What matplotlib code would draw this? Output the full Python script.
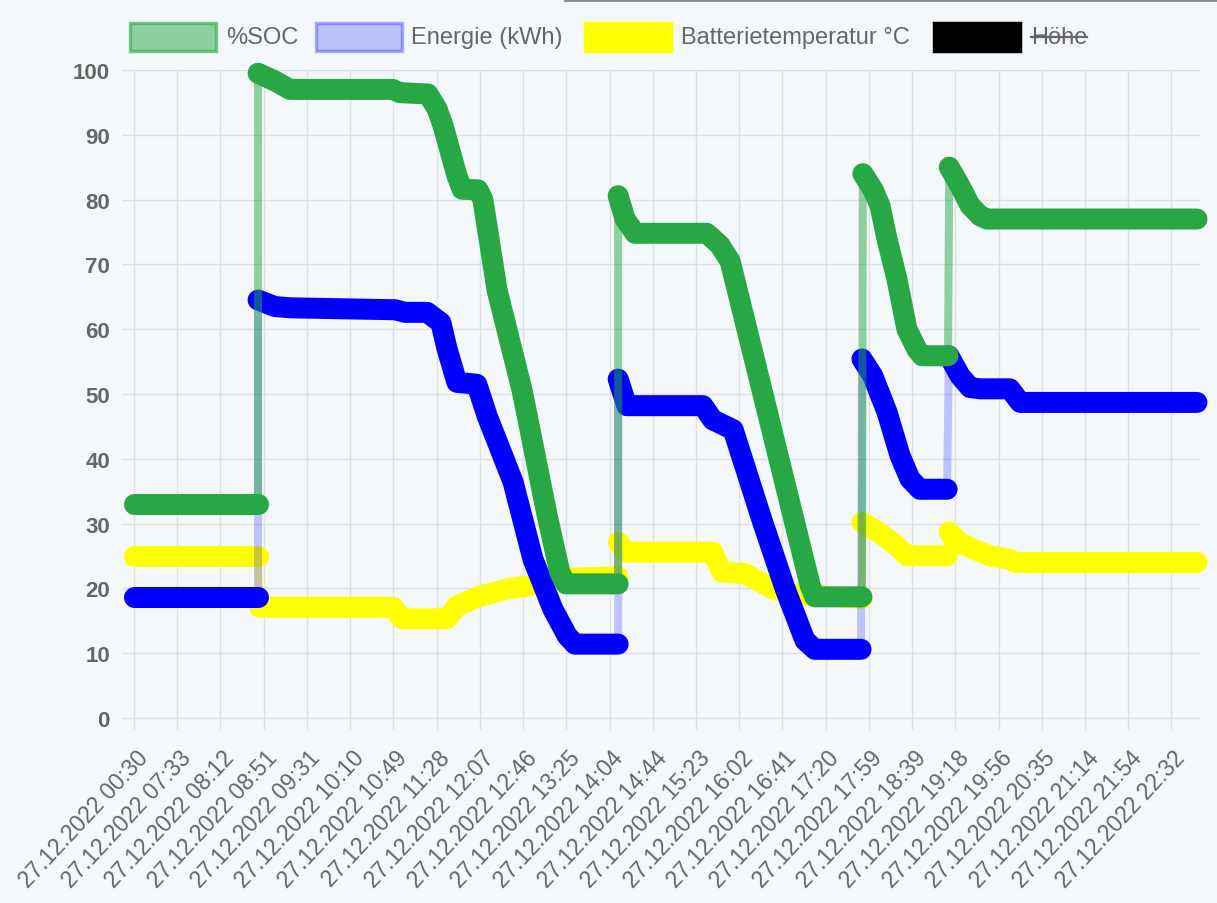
import matplotlib
matplotlib.use("Agg")
import matplotlib.pyplot as plt
import matplotlib.transforms as mtransforms
from matplotlib.patches import Rectangle
from matplotlib.lines import Line2D

# ---- data (x in units of the labelled time ticks, pieces split at jumps) ----
TICK_LABELS = [
    "27.12.2022 00:30", "27.12.2022 07:33", "27.12.2022 08:12", "27.12.2022 08:51",
    "27.12.2022 09:31", "27.12.2022 10:10", "27.12.2022 10:49", "27.12.2022 11:28",
    "27.12.2022 12:07", "27.12.2022 12:46", "27.12.2022 13:25", "27.12.2022 14:04",
    "27.12.2022 14:44", "27.12.2022 15:23", "27.12.2022 16:02", "27.12.2022 16:41",
    "27.12.2022 17:20", "27.12.2022 17:59", "27.12.2022 18:39", "27.12.2022 19:18",
    "27.12.2022 19:56", "27.12.2022 20:35", "27.12.2022 21:14", "27.12.2022 21:54",
    "27.12.2022 22:32",
]

SOC_X = [
    [0.00, 2.87],
    [2.87, 3.26, 3.61, 5.99, 6.15, 6.80, 7.01, 7.15, 7.47, 7.59, 7.96, 8.07,
     8.40, 8.98, 9.55, 9.85, 9.99, 11.20],
    [11.20, 11.36, 11.59, 13.25, 13.55, 13.79, 14.42, 15.64, 15.75, 16.84],
    [16.86, 17.10, 17.26, 17.42, 17.65, 17.88, 18.11, 18.23, 18.83],
    [18.86, 19.11, 19.34, 19.57, 19.73, 24.59],
]
SOC_Y = [
    [33.0, 33.0],
    [99.5, 98.3, 97.0, 97.0, 96.5, 96.3, 94.0, 91.4, 83.7, 81.6, 81.5, 80.0,
     66.0, 50.5, 31.5, 22.5, 20.7, 20.7],
    [80.6, 77.0, 74.8, 74.8, 73.0, 70.5, 53.5, 20.5, 18.7, 18.7],
    [84.0, 81.5, 79.0, 73.9, 67.7, 60.0, 56.9, 55.9, 55.9],
    [85.0, 82.1, 79.1, 77.5, 77.0, 77.0],
]

ENERGY_X = [
    [0.00, 2.87],
    [2.87, 3.26, 3.61, 6.04, 6.27, 6.78, 7.10, 7.24, 7.47, 7.93, 8.17, 8.77, 9.23,
     9.69, 10.02, 10.20, 11.20],
    [11.20, 11.40, 13.16, 13.39, 13.86, 14.53, 15.06, 15.52, 15.75, 16.82],
    [16.84, 17.09, 17.42, 17.72, 17.95, 18.18, 18.81],
    [18.85, 19.11, 19.34, 19.57, 20.26, 20.50, 24.59],
]
ENERGY_Y = [
    [18.6, 18.6],
    [64.5, 63.5, 63.3, 63.0, 62.6, 62.6, 61.0, 57.0, 51.8, 51.5, 46.6, 36.4, 24.5,
     16.8, 12.7, 11.4, 11.4],
    [52.3, 48.2, 48.2, 46.0, 44.5, 30.5, 20.0, 12.0, 10.6, 10.6],
    [55.4, 52.8, 47.2, 40.5, 36.9, 35.3, 35.3],
    [55.9, 52.8, 51.0, 50.8, 50.8, 48.7, 48.7],
]

TEMP_X = [
    [0.00, 2.87],
    [2.91, 5.99, 6.20, 7.24, 7.47, 8.00, 8.63, 9.16, 9.85, 11.20],
    [11.20, 11.40, 13.39, 13.60, 14.13, 14.48, 14.83, 15.41, 16.84],
    [16.84, 17.26, 17.60, 17.88, 18.81],
    [18.85, 19.11, 19.41, 19.80, 20.26, 20.38, 24.59],
]
TEMP_Y = [
    [25.05, 25.05],
    [17.1, 17.1, 15.3, 15.3, 17.3, 18.8, 19.9, 20.4, 21.5, 21.8],
    [27.1, 25.6, 25.6, 22.5, 22.3, 21.0, 19.8, 19.0, 18.5],
    [30.2, 28.5, 26.8, 25.05, 25.05],
    [28.7, 27.0, 26.1, 25.0, 24.5, 24.0, 24.0],
]

GREEN = "#28a745"
BLUE = "#0000ff"
YELLOW = "#ffff00"
BG = "#f5f8fb"
GRID = "#dde1e6"
TXT = "#666666"

W, H = 1217, 904
plt.rcParams["font.family"] = ["Liberation Sans", "DejaVu Sans"]

fig = plt.figure(figsize=(W / 100, H / 100), dpi=100, facecolor=BG)
ax = fig.add_axes([134 / W, 1 - 719 / H, (1200 - 134) / W, (719 - 71) / H])
ax.set_facecolor(BG)

THICK = 21 * 72 / 100
THIN = 8 * 72 / 100


def draw_series(xs, ys, color, thin_alpha, z):
    allx = [v for p in xs for v in p]
    ally = [v for p in ys for v in p]
    ax.plot(allx, ally, color=color, alpha=thin_alpha, lw=THIN, zorder=z,
            clip_on=False, solid_joinstyle="round")
    for px, py in zip(xs, ys):
        ax.plot(px, py, color=color, lw=THICK, zorder=z + 0.5, clip_on=False,
                solid_capstyle="round", solid_joinstyle="round")


draw_series(TEMP_X, TEMP_Y, YELLOW, 0.5, 3)
draw_series(ENERGY_X, ENERGY_Y, BLUE, 0.22, 5)
draw_series(SOC_X, SOC_Y, GREEN, 0.5, 7)

ax.set_xlim(0, 24.66)
ax.set_ylim(0, 100)
ax.set_xticks(range(len(TICK_LABELS)))
ax.set_xticklabels(TICK_LABELS, rotation=47, ha="right", va="center",
                   rotation_mode="anchor", fontsize=16.5, color=TXT)
ax.set_yticks(range(0, 101, 10))
ax.set_yticklabels([str(v) for v in range(0, 101, 10)], fontsize=16,
                   fontweight="bold", color=TXT)
ax.tick_params(axis="both", length=12 * 72 / 100, width=1, color=GRID)
ax.tick_params(axis="y", pad=12 * 72 / 100)
ax.tick_params(axis="x", pad=24 * 72 / 100)
shift = mtransforms.ScaledTranslation(10 / 100, 0, fig.dpi_scale_trans)
for lab in ax.get_xticklabels():
    lab.set_transform(lab.get_transform() + shift)
ax.grid(True, color=GRID, lw=1, zorder=0)
ax.set_axisbelow(True)
for s in ["top", "right"]:
    ax.spines[s].set_visible(False)
for s in ["left", "bottom"]:
    ax.spines[s].set_color(GRID)

# ---- legend + header line, drawn in pixel coordinates ----
ov = fig.add_axes([0, 0, 1, 1], zorder=10)
ov.set_xlim(0, W)
ov.set_ylim(H, 0)
ov.axis("off")
ov.patch.set_alpha(0)

ov.add_line(Line2D([565, W], [0.8, 0.8], color="#8c8c8c", lw=2))

legend_items = [
    ("%SOC", (40 / 255, 167 / 255, 69 / 255, 0.5), (40 / 255, 167 / 255, 69 / 255, 0.6), 128, 226),
    ("Energie (kWh)", (0, 0, 1, 0.22), (0, 0, 1, 0.3), 314, 411),
    ("Batterietemperatur °C", YELLOW, YELLOW, 583, 681),
    ("Höhe", "black", "black", 932, 1031),
]
texts = []
for label, fc, ec, bx, tx in legend_items:
    ov.add_patch(Rectangle((bx + 1.5, 23.5), 86, 28, facecolor=fc, edgecolor=ec, lw=2.5))
    texts.append(ov.text(tx, 38, label, fontsize=17, color=TXT, va="center", ha="left"))

# strike through the hidden dataset's label
fig.canvas.draw()
bb = texts[-1].get_window_extent()
inv = ov.transData.inverted()
(x0, y0), (x1, y1) = inv.transform([(bb.x0, bb.y0), (bb.x1, bb.y1)])
ov.add_line(Line2D([x0, x1], [38, 38], color=TXT, lw=1.6))

fig.savefig("out.png", dpi=100, facecolor=BG)
